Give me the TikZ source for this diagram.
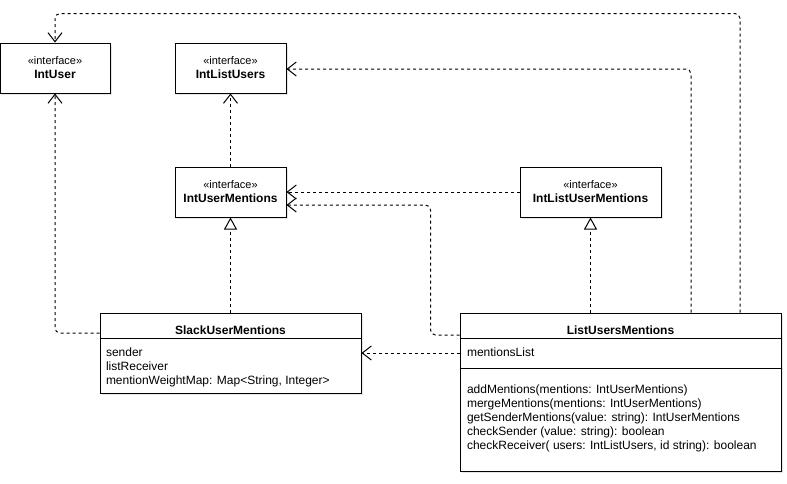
\documentclass[tikz,border=0pt]{standalone}
\usepackage{fontspec}
\setmainfont{Liberation Sans}
\usepackage{tikz}
\usetikzlibrary{positioning,arrows.meta,shadows}

\newcommand{\ifacetag}{{\fontsize{11}{14}\selectfont «interface»}}

\begin{document}
\begin{tikzpicture}[x=1pt, y=-1pt, on grid, line width=1pt,
    box/.style={draw, fill=white, drop shadow={opacity=0.2, shadow xshift=2pt, shadow yshift=-2pt}},
    iface/.style={box, minimum width=111pt, minimum height=50pt, align=center, inner sep=0pt, font=\fontsize{12}{14}\selectfont},
    cls/.style={box, inner sep=0pt},
    title/.style={inner sep=0pt, font=\fontsize{12}{14}\selectfont\bfseries},
    members/.style={anchor=north west, align=left, inner sep=0pt, font=\fontsize{12}{14}\selectfont},
    dep/.style={dash pattern=on 3pt off 3pt, rounded corners=5pt, -{Straight Barb[length=9pt, width=14pt]}},
    real/.style={dash pattern=on 3pt off 3pt, -{Triangle[open, length=12pt, width=13pt, fill=white]}}]

  \useasboundingbox (0,0) rectangle (787,483);

  % Interfaces
  \node[iface, minimum width=110pt] (iu) at (55,68) {\ifacetag\\\textbf{IntUser}};
  \node[iface] (ilu) [right=175.5pt of iu] {\ifacetag\\\textbf{IntListUsers}};
  \node[iface] (ium) [below=124pt of ilu] {\ifacetag\\\textbf{IntUserMentions}};
  \node[iface, minimum width=141pt] (ilum) [right=360pt of ium] {\ifacetag\\\textbf{IntListUserMentions}};

  % Classes
  \node[cls, minimum width=261pt, minimum height=80pt] (sum) [below=161pt of ium] {};
  \node[title] (sum-name) [below=13pt of sum.north] {SlackUserMentions};
  \draw ([yshift=-26pt]sum.north west) -- ([yshift=-26pt]sum.north east);
  \node[members] (sum-attr) at ([xshift=6pt, yshift=-35pt]sum.north west)
    {sender\\listReceiver\\mentionWeightMap: Map<String, Integer>};

  \node[cls, minimum width=321pt, minimum height=158pt] (lum) [below right=39pt and 390pt of sum] {};
  \node[title] (lum-name) [below=13pt of lum.north] {ListUsersMentions};
  \draw ([yshift=-26pt]lum.north west) -- ([yshift=-26pt]lum.north east);
  \draw ([yshift=-56pt]lum.north west) -- ([yshift=-56pt]lum.north east);
  \node[members] (lum-attr) at ([xshift=7pt, yshift=-35pt]lum.north west) {mentionsList};
  \node[members] (lum-ops) at ([xshift=7pt, yshift=-72pt]lum.north west)
    {addMentions(mentions: IntUserMentions)\\
     mergeMentions(mentions: IntUserMentions)\\
     getSenderMentions(value: string): IntUserMentions\\
     checkSender (value: string): boolean\\
     checkReceiver( users: IntListUsers, id string): boolean};

  % Relations
  \path
    (sum) edge[real] (ium)
    (ium) edge[dep] (ilu)
    (ilum) edge[dep] (ium)
    ([xshift=-30pt]lum.north) edge[real] (ilum.south)
    ([yshift=39pt]lum.west) edge[dep] (sum.east);

  \draw[dep] ([yshift=20pt]sum.west) -| (iu.south);
  \draw[dep] ([yshift=57pt]lum.west) -- ++(-29,0) |- ([yshift=-13pt]ium.east);
  \draw[dep] ([xshift=70.5pt]lum.north) |- ([yshift=-1pt]ilu.east);
  \draw[dep] ([xshift=119.5pt]lum.north) -- ++(0,-299) -| (iu.north);

\end{tikzpicture}
\end{document}
